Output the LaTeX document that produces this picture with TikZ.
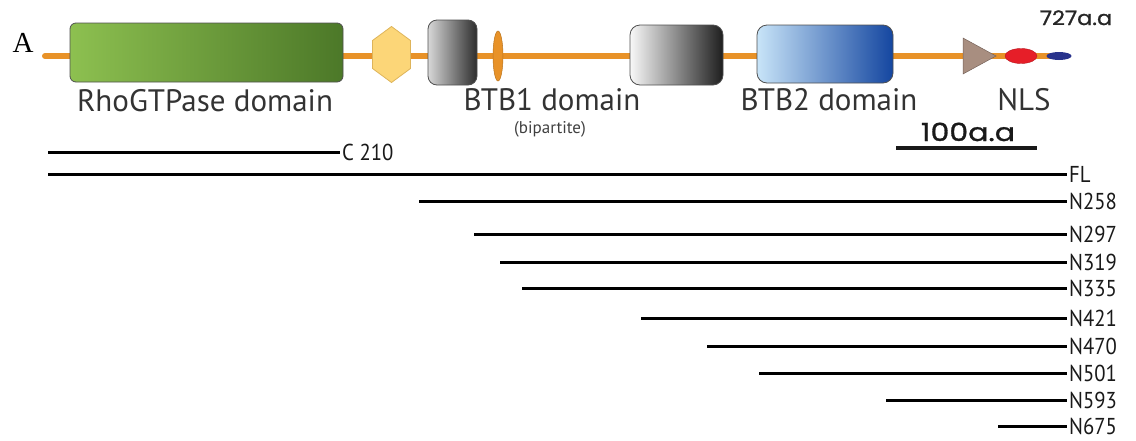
\documentclass[tikz,border=0pt]{standalone}
\usepackage{fontspec}
\setmainfont{PT Sans}
\newfontfamily\narrowfont[FakeStretch=0.9]{PT Sans}
\newfontfamily\roundfont[FakeStretch=1.12,FakeBold=1.2]{Poppins}
\newfontfamily\roundfontB[FakeStretch=1.2,FakeBold=1.2]{Poppins}
\newfontfamily\serifA{Liberation Serif}
\usetikzlibrary{shapes.geometric,calc}
\definecolor{backbone}{RGB}{232,146,40}
\definecolor{edgegray}{RGB}{80,80,80}
\definecolor{hexfill}{RGB}{252,214,120}
\definecolor{hexedge}{RGB}{222,180,90}
\definecolor{triFill}{RGB}{168,142,128}
\definecolor{nlsred}{RGB}{230,30,40}
\definecolor{tipblue}{RGB}{40,50,140}
\tikzset{
  x=1pt,y=-1pt,
  domainbox/.style={draw=edgegray, line width=0.8pt, rounded corners=7pt, inner sep=0pt},
  frag/.style={line width=3pt, black},
  lbl/.style={anchor=west, inner sep=2pt, font=\narrowfont\fontsize{23}{23}\selectfont, text=black!90},
  dlabel/.style={inner sep=0pt, text depth=0pt, font=\fontsize{31}{31}\selectfont, text=black!80},
}
\begin{document}
\begin{tikzpicture}
\useasboundingbox (0,0) rectangle (1136,440);
% panel letter
\node[inner sep=0pt, anchor=base, font=\serifA\fontsize{29}{29}\selectfont] (A) at (23,52) {A};
% backbone
\coordinate (bbL) at (45,56);
\coordinate (bbR) at (1052,56);
\draw[backbone, line width=6pt, line cap=round] (bbL) -- (bbR);
% domains
\node[domainbox, rounded corners=6pt, minimum width=273pt, minimum height=59pt,
      left color={rgb,255:red,141;green,192;blue,80}, right color={rgb,255:red,76;green,120;blue,40}]
      (rho) at (206.5,52.5) {};
\coordinate (hex) at (391.5,54.5);
\filldraw[fill=hexfill, draw=hexedge, line width=0.8pt]
  ($(hex)+(0,-28)$) -- ($(hex)+(19,-14)$) -- ($(hex)+(19,14)$) -- ($(hex)+(0,28)$)
  -- ($(hex)+(-19,14)$) -- ($(hex)+(-19,-14)$) -- cycle;
\node[domainbox, rounded corners=9pt, minimum width=49pt, minimum height=65pt,
      left color={rgb,255:red,215;green,215;blue,215}, right color={rgb,255:red,45;green,45;blue,45}]
      (btb1a) at (452.5,52.5) {};
\node[ellipse, draw=backbone!80!black, fill=backbone, line width=0.5pt, minimum width=10pt, minimum height=50pt, inner sep=0pt]
      (lens) at (498,56) {};
\node[domainbox, rounded corners=10pt, minimum width=93pt, minimum height=60pt,
      left color={rgb,255:red,248;green,248;blue,248}, right color={rgb,255:red,30;green,30;blue,30}]
      (btb1b) at (676.5,55) {};
\node[domainbox, rounded corners=10pt, minimum width=136pt, minimum height=58pt,
      left color={rgb,255:red,200;green,228;blue,248}, middle color={rgb,255:red,10;green,160;blue,228}, right color={rgb,255:red,20;green,70;blue,160}]
      (btb2) at (825,54) {};
% C-terminal features
\coordinate (triA) at (963,38);
\coordinate (triB) at (963,74);
\coordinate (triC) at (996,56);
\filldraw[fill=triFill, draw=triFill!70!black, line width=0.5pt] (triA) -- (triC) -- (triB) -- cycle;
\node[ellipse, fill=nlsred, draw=nlsred!80!black, line width=0.4pt, minimum width=32pt, minimum height=15pt, inner sep=0pt] (nls) at (1021,56) {};
\node[ellipse, fill=tipblue, minimum width=25pt, minimum height=8pt, inner sep=0pt] (tip) at (1059,56) {};
% domain labels
\node[dlabel, anchor=base] (rhoL) at (205,111) {RhoGTPase domain};
\node[dlabel, anchor=base] (btb1L) at (552,110) {BTB1 domain};
\node[inner sep=0pt, anchor=base, font=\fontsize{17}{17}\selectfont, text=black!75] (bip) at (550,133) {(bipartite)};
\node[dlabel, anchor=base] (btb2L) at (829,110) {BTB2 domain};
\node[dlabel, anchor=base] (nlsL) at (1024,110) {NLS};
\node[inner sep=0pt, anchor=base, font=\roundfont\fontsize{20}{20}\selectfont, text=black!85] (len) at (1076,25) {727a.a};
% scale bar
\node[inner sep=0pt, anchor=base, font=\roundfontB\fontsize{25}{25}\selectfont, text=black!90] (scaleL) at (968,141) {100a.a};
\coordinate (sb1) at (896,148);
\coordinate (sb2) at (1037,148);
\draw[line width=3.5pt, black!90] (sb1) -- (sb2);
% fragments
\coordinate (s210) at (48,152);
\node[lbl] (c210) at (340,152) {C 210};
\draw[frag] (s210) -- (c210.west);
\coordinate (sFL) at (48,174);
\node[lbl] (fl) at (1067,174) {FL};
\draw[frag] (sFL) -- (fl.west);
\foreach \n/\s/\y in {258/419/201, 297/474/234, 319/500/262, 335/522/288, 421/641/318, 470/707/346, 501/759/373, 593/886/400, 675/998/426}{
  \coordinate (s\n) at (\s,\y);
  \node[lbl] (n\n) at (1067,\y) {N\n};
  \draw[frag] (s\n) -- (n\n.west);
}
\end{tikzpicture}
\end{document}
